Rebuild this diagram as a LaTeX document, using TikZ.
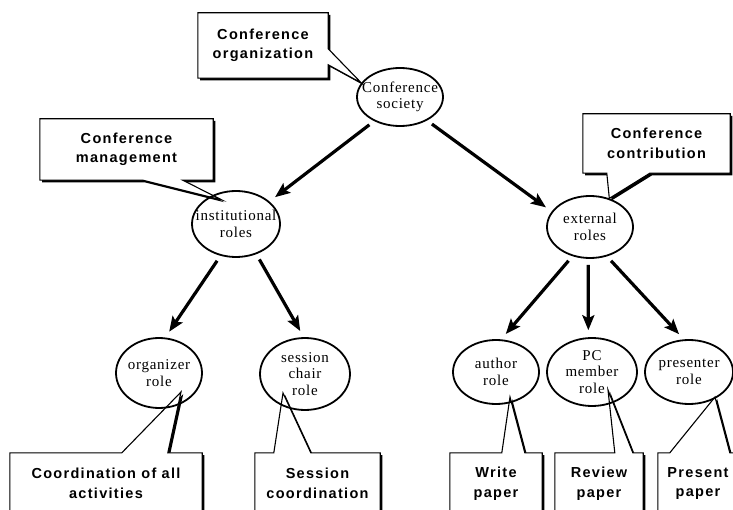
\documentclass[tikz,border=0pt]{standalone}
\usepackage{fontspec}
\newfontfamily\calloutfont[LetterSpace=9]{Liberation Sans}
\newfontfamily\rolefont[LetterSpace=5]{Liberation Serif}
\usetikzlibrary{shapes.geometric,arrows.meta,calc,shadows}
\pgfdeclarelayer{background}
\pgfsetlayers{background,main}

\begin{document}
\begin{tikzpicture}[x=1pt,y=-1pt,
  role/.style={ellipse, draw, line width=1.8pt, inner sep=-30pt, align=center,
    font=\rolefont\fontsize{15}{16.5}\selectfont},
  boxtext/.style={rectangle, inner sep=0pt, align=center,
    font=\calloutfont\bfseries\fontsize{14.5}{19.5}\selectfont},
  callout/.style={fill=white, draw=black, line width=1.1pt, line join=miter,
    drop shadow={shadow xshift=2.2pt, shadow yshift=-2.2pt, fill=black, opacity=1}},
  link/.style={line width=3.2pt, -{Stealth[length=15pt,width=12pt,inset=3pt]},
    shorten <=6pt, shorten >=7pt}
]
\useasboundingbox (0,0) rectangle (733,510);
\clip (0,0) rectangle (733,510);

% role hierarchy
\node[role, minimum width=86pt, minimum height=58pt] (soc)  at (400,97)  {Conference\\society};
\node[role, minimum width=88pt, minimum height=66pt] (inst) at (236,224) {institutional\\roles};
\node[role, minimum width=86pt, minimum height=62pt] (ext)  at (590,227) {external\\roles};
\node[role, minimum width=86pt, minimum height=70pt] (org)  at (159,373) {organizer\\role};
\node[role, minimum width=90pt, minimum height=72pt] (sess) at (305,374) {session\\chair\\role};
\node[role, minimum width=86pt, minimum height=64pt] (auth) at (496,372) {author\\role};
\node[role, minimum width=90pt, minimum height=68pt] (pc)   at (592,372) {PC\\member\\role};
\node[role, minimum width=88pt, minimum height=64pt] (pres) at (689,372) {presenter\\role};

% callout texts
\node[boxtext, minimum width=130pt, minimum height=65pt] (orgbox)    at (263,45.5)    {Conference\\organization};
\node[boxtext, minimum width=173pt, minimum height=61pt] (mgmt)      at (126.5,149.5) {Conference\\management};
\node[boxtext, minimum width=147pt, minimum height=59pt] (contrib)   at (656.5,143.5) {Conference\\contribution};
\node[boxtext, minimum width=192pt, minimum height=61pt] (coordbox)  at (106,483.5)   {Coordination of all\\activities};
\node[boxtext, minimum width=125pt, minimum height=61pt] (sessbox)   at (317.5,483.5) {Session\\coordination};
\node[boxtext, minimum width=92pt,  minimum height=61pt] (writebox)  at (496,483.5)   {Write\\paper};
\node[boxtext, minimum width=88pt,  minimum height=61pt] (reviewbox) at (599,483.5)   {Review\\paper};
\node[boxtext, minimum width=80pt,  minimum height=61pt] (presbox)   at (698,483.5)   {Present\\paper};

% callout outlines behind the texts
\begin{pgfonlayer}{background}
\clip (0,0) rectangle (733,510);
\path[callout] (orgbox.north west) -- (orgbox.north east)
  -- ($(orgbox.north east)+(0,36)$) -- (soc.160) -- ($(orgbox.north east)+(0,52)$)
  -- (orgbox.south east) -- (orgbox.south west) -- cycle;
\path[callout] (mgmt.north west) -- (mgmt.north east) -- (mgmt.south east)
  -- ($(mgmt.south west)+(143,0)$) -- ($(inst.center)+(-14,-24)$) -- ($(mgmt.south west)+(103,0)$)
  -- (mgmt.south west) -- cycle;
\path[callout] (contrib.north west) -- (contrib.north east) -- (contrib.south east)
  -- ($(contrib.south west)+(67,0)$) -- (ext.56) -- ($(contrib.south west)+(24,0)$)
  -- (contrib.south west) -- cycle;
\path[callout] (coordbox.north west)
  -- ($(coordbox.north west)+(112,0)$) -- ($(org.center)+(22,19)$) -- ($(coordbox.north west)+(158,0)$)
  -- (coordbox.north east) -- (coordbox.south east) -- (coordbox.south west) -- cycle;
\path[callout] (sessbox.north west)
  -- ($(sessbox.north west)+(19,0)$) -- ($(sess.center)+(-22,19)$) -- ($(sessbox.north west)+(56,0)$)
  -- (sessbox.north east) -- (sessbox.south east) -- (sessbox.south west) -- cycle;
\path[callout] (writebox.north west)
  -- ($(writebox.north west)+(52,0)$) -- ($(auth.center)+(14,25)$) -- ($(writebox.north west)+(75,0)$)
  -- (writebox.north east) -- (writebox.south east) -- (writebox.south west) -- cycle;
\path[callout] (reviewbox.north west)
  -- ($(reviewbox.north west)+(60,0)$) -- ($(pc.center)+(16,18)$) -- ($(reviewbox.north west)+(78,0)$)
  -- (reviewbox.north east) -- (reviewbox.south east) -- (reviewbox.south west) -- cycle;
\path[callout] (presbox.north west)
  -- ($(presbox.north west)+(12,0)$) -- ($(pres.center)+(26,25)$) -- ($(presbox.north west)+(72,0)$)
  -- (presbox.north east) -- (presbox.south east) -- (presbox.south west) -- cycle;
\end{pgfonlayer}

% hierarchy arrows
\draw[link] (soc.-137) -- (inst.34);
\draw[link] (soc.-41)  -- (ext.158);
\draw[link] (inst.-116) -- (org.80);
\draw[link] (inst.-56)  -- (sess.92);
\draw[link] (ext.-121) -- (auth.81);
\draw[link] (ext.-93)  -- (pc.96);
\draw[link] (ext.-60)  -- (pres.99);
\end{tikzpicture}
\end{document}
